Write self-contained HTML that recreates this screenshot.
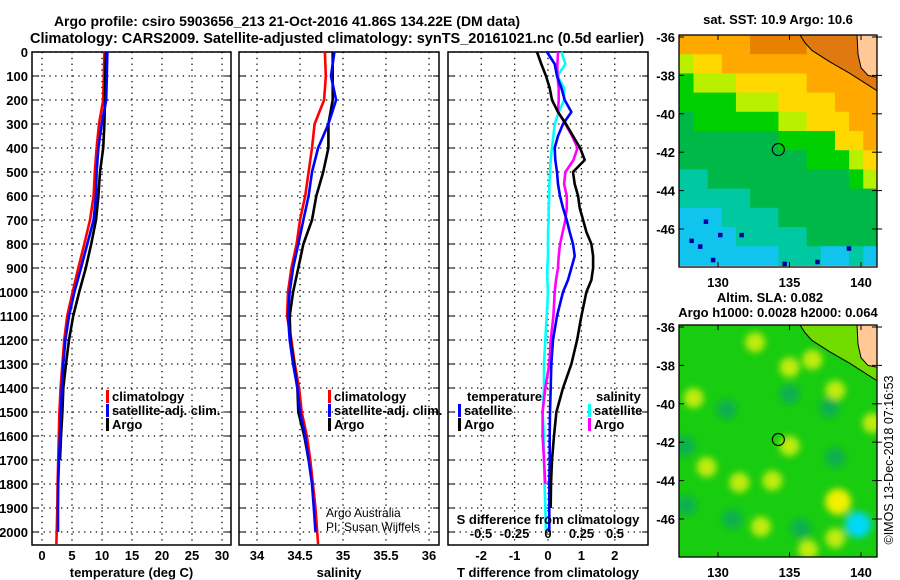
<!DOCTYPE html>
<html><head><meta charset="utf-8">
<style>
html,body{margin:0;padding:0;background:#fff;}
svg{display:block;font-family:"Liberation Sans",sans-serif;}
.t{font-weight:bold;font-size:13px;fill:#000;}
.n{font-weight:normal;font-size:12px;fill:#000;}
</style></head>
<body>
<svg id="fig" width="900" height="580" viewBox="0 0 900 580" xmlns="http://www.w3.org/2000/svg">
<text x="287" y="26" text-anchor="middle" style="font-weight:bold;font-size:14px">Argo profile: csiro 5903656_213 21-Oct-2016 41.86S 134.22E (DM data)</text>
<text x="337" y="43" text-anchor="middle" style="font-weight:bold;font-size:14.5px">Climatology: CARS2009. Satellite-adjusted climatology: synTS_20161021.nc (0.5d earlier)</text>
<g id="g"></g>
</svg>
<script>
// ---------- profile data ----------
const depths = [0,100,200,300,400,500,600,700,800,900,1000,1100,1200,1300,1400,1500,1600,1700,1800,1900,2000,2050];
const tempClim = [10.4,10.3,10.2,9.5,9.1,8.8,8.6,8.0,7.05,6.05,5.1,4.2,3.7,3.4,3.1,2.9,2.8,2.7,2.6,2.55,2.45,2.4];
const tempSat  = [10.9,10.8,10.7,9.95,9.4,9.1,9.0,8.6,7.55,6.5,5.4,4.5,3.9,3.55,3.3,3.17,3.0,2.83,2.7,2.67,2.67,null];
const tempArgo = [10.67,10.55,10.5,10.4,10.2,9.67,9.4,9.0,8.2,7.3,6.2,5.2,4.5,4.0,3.55,3.4,3.17,3.0,null,null,null,null];
const salClim = [34.79,34.8,34.78,34.67,34.64,34.6,34.56,34.5,34.46,34.40,34.36,34.35,34.4,34.44,34.49,34.52,34.58,34.62,34.65,34.68,34.70,34.71];
const salSat  = [34.9,34.86,34.92,34.83,34.71,34.64,34.6,34.54,34.48,34.42,34.38,34.36,34.38,34.42,34.47,34.5,34.56,34.6,34.64,34.66,34.68,null];
const salArgo = [34.88,34.88,34.88,34.83,34.83,34.77,34.69,34.64,34.54,34.48,34.42,34.38,34.39,34.43,34.47,34.48,34.55,34.6,null,null,null,null];
// ---------- difference data ----------
const diffDepths = [0,50,100,150,200,250,300,350,400,450,500,550,600,650,700,750,800,850,900,950,1000,1100,1200,1300,1400,1500,1600,1700,1800,1900,2000];
const tDiffArgo = [-0.33,-0.2,-0.06,0.05,0.12,0.3,0.54,0.75,0.96,1.1,0.75,0.8,0.9,0.95,1.05,1.15,1.3,1.35,1.35,1.3,1.15,1.0,0.87,0.7,0.45,0.25,0.18,0.12,0.09,0.08,null];
const tDiffSat  = [-0.03,0.2,0.27,0.4,0.5,0.7,0.45,0.3,0.2,0.22,0.27,0.3,0.36,0.45,0.56,0.65,0.75,0.8,0.7,0.6,0.45,0.27,0.15,0.1,0.08,0.06,0.05,0.05,0.04,0.04,0.04];
const sDiffArgo = [0.075,0.07,0.07,0.08,0.08,0.075,0.13,0.18,0.22,0.19,0.13,0.12,0.14,0.14,0.13,0.11,0.09,0.08,0.075,0.06,0.05,0.04,0.02,0.01,-0.02,-0.04,-0.04,-0.03,-0.02,null,null];
const sDiffSat  = [0.1,0.13,0.07,0.12,0.12,0.08,0.05,0.04,0.03,0.02,0.015,0.01,0.01,0.005,0.005,0,0,0,-0.005,-0.005,0,-0.01,-0.02,-0.03,-0.03,-0.04,-0.03,-0.03,-0.025,-0.02,-0.015];
// ---------- ticks ----------
const depthTicks = [0,100,200,300,400,500,600,700,800,900,1000,1100,1200,1300,1400,1500,1600,1700,1800,1900,2000];
const tempTicks = [0,5,10,15,20,25,30];
const salTicks = [34,34.5,35,35.5,36];
const tDiffTicks = [-2,-1,0,1,2];
const sDiffTicks = [-0.5,-0.25,0,0.25,0.5];
const latTicks = [-36,-38,-40,-42,-44,-46];
const lonTicks = [130,135,140];
// ---------- SST map (1 deg rows from 36S, 14 cols from 127.3E) ----------
const sstRows = [
"77777888877888",
"56677777777777",
"45556666677777",
"44445556666777",
"34444445566677",
"33333334444667",
"33333333344456",
"22333333333345",
"22222333333333",
"11122223333333",
"11112222233333",
"11111112221121"];
const sstColors = ["#0000a0","#10c4ee","#00c8a0","#00b848","#00d000","#b8f000","#ffd800","#ffa800","#e88000"];
const sstSpeckLon = [128,129.5,130,128.6,136.8,139,131.5,129,134.5];
const sstSpeckLat = [-46.5,-47.5,-46.2,-46.8,-47.6,-46.9,-46.2,-45.5,-47.7];
// ---------- SLA blobs ----------
const slaLon = [132.6,135,136.6,138.2,135,129.2,131.5,133.8,138.4,133,136.3,138.2,128.3,140.8,130.6,135,137.8,138.2,127.7,127.8,131,135.8,139.8];
const slaLat = [-36.8,-38.1,-37.7,-39.3,-42.2,-43.3,-44.1,-44.0,-45.1,-46.4,-47.6,-47,-39.7,-41,-40.3,-39.5,-40.2,-42.8,-42.2,-45.3,-46,-46.5,-46.3];
const slaVal = [1,1,1,1,1,1,1,1,2,1,1,1,1,1,-1,-1,-1,-1,-1,-1,-1,-1,-2];
const argoLon = 134.22, argoLat = -41.86;

const NS="http://www.w3.org/2000/svg";
const G=document.getElementById('g');
function mk(tag,attrs,parent){const e=document.createElementNS(NS,tag);for(const k in attrs)e.setAttribute(k,attrs[k]);(parent||G).appendChild(e);return e;}
function txt(x,y,s,anchor,cls,parent){const e=mk('text',{x:x,y:y,'text-anchor':anchor||'middle','class':cls||'t'},parent);e.textContent=s;return e;}

const Y0=52, PY=0.24, YB=545;
const yD=d=>Y0+PY*d;
const xT=v=>42+6*v, xS=v=>257+86*(v-34), xTd=v=>548+33.4*v, xSd=v=>548+134*v;

function panel(name,x0,x1,vticks,vx,labels,xlabel,leftLabels){
  const g=mk('g',{});
  
  
  depthTicks.forEach(d=>{
    const l=mk('line',{x1:x0,x2:x1,y1:yD(d),y2:yD(d),stroke:'#000','stroke-width':1.3,'stroke-dasharray':'1.3 4.5'},g);
    
    
    mk('line',{x1:x0,x2:x0+6,y1:yD(d),y2:yD(d),stroke:'#000','stroke-width':1},g);
    mk('line',{x1:x1-6,x2:x1,y1:yD(d),y2:yD(d),stroke:'#000','stroke-width':1},g);
    if(leftLabels){const t=txt(28,yD(d)+5,String(d),'end','t',g);
      
      }
  });
  vticks.forEach((v,i)=>{
    const x=vx(v);
    const l=mk('line',{x1:x,x2:x,y1:Y0,y2:YB,stroke:'#000','stroke-width':1.3,'stroke-dasharray':'1.3 4.5'},g);
    
    
    const t=txt(x,560,labels[i],'middle','t',g);
    
    
  });
  const r=mk('rect',{x:x0,y:Y0,width:x1-x0,height:YB-Y0,fill:'none',stroke:'#000','stroke-width':1.5},g);
  
  
  const xl=txt((x0+x1)/2,577,xlabel,'middle','t',g);
  
  
  return g;
}
function line(g,ds,vals,fx,color,name,w){
  let pts=[];
  vals.forEach((v,i)=>{if(v!==null&&v!==undefined)pts.push(fx(v).toFixed(1)+','+yD(ds[i]).toFixed(1));});
  const p=mk('polyline',{points:pts.join(' '),fill:'none',stroke:color,'stroke-width':w||2.6,'stroke-linejoin':'round'},g);
  
  
}
function legend(g,x,y,color,label){
  const m=mk('rect',{x:x,y:y-11,width:3,height:13,fill:color},g);
  
  
  const t=txt(x+6,y,label,'start','t',g);
  
  
}

// Panel 1
const p1=panel('temperature-panel',32,231,tempTicks,xT,tempTicks.map(String),'temperature (deg C)',true);
line(p1,depths,tempClim,xT,'#ff0000','temp-climatology-line');
line(p1,depths,tempArgo,xT,'#000000','temp-argo-line');
line(p1,depths,tempSat,xT,'#0000ff','temp-satellite-line');
legend(p1,106,401,'#ff0000','climatology');
legend(p1,106,415,'#0000ff','satellite-adj. clim.');
legend(p1,106,429,'#000000','Argo');

// Panel 2
const p2=panel('salinity-panel',239,439,salTicks,xS,['34','34.5','35','35.5','36'],'salinity',false);
line(p2,depths,salClim,xS,'#ff0000','sal-climatology-line');
line(p2,depths,salArgo,xS,'#000000','sal-argo-line');
line(p2,depths,salSat,xS,'#0000ff','sal-satellite-line');
legend(p2,328,401,'#ff0000','climatology');
legend(p2,328,415,'#0000ff','satellite-adj. clim.');
legend(p2,328,429,'#000000','Argo');
{const a=txt(326,517,'Argo Australia','start','n',p2);
 
 
 const b=txt(326,531,'PI: Susan Wijffels','start','n',p2);
 
 }

// Panel 3
const p3=panel('difference-panel',448,648,tDiffTicks,xTd,tDiffTicks.map(String),'T difference from climatology',false);
line(p3,diffDepths,sDiffSat,xSd,'#00ffff','s-diff-satellite-line');
line(p3,diffDepths,sDiffArgo,xSd,'#ff00ff','s-diff-argo-line');
line(p3,diffDepths,tDiffSat,xTd,'#0000ff','t-diff-satellite-line');
line(p3,diffDepths,tDiffArgo,xTd,'#000000','t-diff-argo-line');
{const t=txt(467,401,'temperature','start','t',p3);}
legend(p3,458,415,'#0000ff','satellite');
legend(p3,458,429,'#000000','Argo');
{const t=txt(596,401,'salinity','start','t',p3);}
legend(p3,588,415,'#00ffff','satellite');
legend(p3,588,429,'#ff00ff','Argo');
{const t=txt(548,524,'S difference from climatology','middle','t',p3);}
sDiffTicks.forEach(v=>{const t=txt(xSd(v),538,String(v),'middle','t',p3);
  
  });

// ---------- Maps ----------
const MX0=679,MX1=877;
const lonX=l=>718+14.3*(l-130);
function mapFrame(name,top,bottom){
  const latY=l=>top+2+19.2*(-36-l);
  const g=mk('g',{});
  
  
  const cp=mk('clipPath',{id:'clip-'+name},g);
  mk('rect',{x:MX0,y:top,width:MX1-MX0,height:bottom-top},cp);
  const inner=mk('g',{'clip-path':'url(#clip-'+name+')'},g);
  return {g,inner,latY,top,bottom};
}
function mapAxes(m){
  const g=m.g;
  mk('rect',{x:MX0,y:m.top,width:MX1-MX0,height:m.bottom-m.top,fill:'none',stroke:'#000','stroke-width':1.3},g);
  latTicks.forEach(l=>{const y=m.latY(l);
    mk('line',{x1:MX0,x2:MX0+5,y1:y,y2:y,stroke:'#000'},g);
    mk('line',{x1:MX1-5,x2:MX1,y1:y,y2:y,stroke:'#000'},g);
    mk('line',{x1:MX1,x2:MX1+5,y1:y,y2:y,stroke:'#000'},g);
    const t=txt(675,y+5,String(l),'end','t',g);
    
    });
  lonTicks.forEach(l=>{const x=lonX(l);
    mk('line',{x1:x,x2:x,y1:m.top,y2:m.top+5,stroke:'#000'},g);
    mk('line',{x1:x,x2:x,y1:m.bottom-5,y2:m.bottom,stroke:'#000'},g);
    const t=txt(x,m.bottom+20,String(l),'middle','t',g);
    
    });
  const c=mk('circle',{cx:lonX(argoLon),cy:m.latY(argoLat),r:6,fill:'none',stroke:'#000','stroke-width':1.2},g);
  
  
}
function land(m,inner,coastFill){
  const y=m.latY;
  const a=mk('polygon',{points:`800,${m.top} ${MX1},${m.top} ${MX1},${y(-38.8)} 850,${y(-37.9)} 830,${y(-37.3)} 812,${y(-36.7)}`,fill:coastFill},inner);
  
  
  const p=mk('polygon',{points:`857,${m.top} ${MX1},${m.top} ${MX1},${y(-38.1)} 868,${y(-38.0)} 861,${y(-37.6)} 858,${y(-36.9)}`,fill:'#ffc896'},inner);
  
  
  const cl=mk('polyline',{points:`800,${m.top} 805,${y(-36.3)} 812,${y(-36.7)} 830,${y(-37.3)} 850,${y(-37.9)} 865,${y(-38.4)} ${MX1},${y(-38.8)}`,fill:'none',stroke:'#000','stroke-width':1},inner);
  
  
  mk('polyline',{points:`857,${m.top} 858,${y(-36.9)} 861,${y(-37.6)} 868,${y(-38.0)} ${MX1},${y(-38.1)}`,fill:'none',stroke:'#000','stroke-width':1},inner);
}

// SST map
const m1=mapFrame('sst-map',35,267);
{const t=txt(778,24,'sat. SST: 10.9 Argo: 10.6','middle','t');}
sstRows.forEach((row,r)=>{
  for(let c=0;c<row.length;c++){
    const lon0=127.3+c*(198/14)/14.3;
    const x=lonX(lon0), w=198/14+0.5;
    const y=m1.latY(-36-r)-2, h=19.7;
    const cell=mk('rect',{x:x,y:y,width:w,height:h,fill:sstColors[+row[c]]},m1.inner);
    
    
  }
});
sstSpeckLon.forEach((lo,i)=>{
  const s=mk('rect',{x:lonX(lo),y:m1.latY(sstSpeckLat[i]),width:4.5,height:4.5,fill:'#0000a0'},m1.inner);
  
  
});
land(m1,m1.inner,'#e07a10');
mapAxes(m1);

// SLA map
const m2=mapFrame('sla-map',325,557);
{const t=txt(770,302,'Altim. SLA: 0.082','middle','t');
 const t2=txt(778,317,'Argo h1000: 0.0028 h2000: 0.064','middle','t');}
{const defs=mk('defs',{},m2.g);const f=mk('filter',{id:'blr',x:'-50%',y:'-50%',width:'200%',height:'200%'},defs);mk('feGaussianBlur',{stdDeviation:3.5},f);}
{const bg=mk('rect',{x:MX0,y:325,width:198,height:232,fill:'#18cc10'},m2.inner);}
const bl=mk('g',{filter:'url(#blr)'},m2.inner);
const slaCol={'2':'#f0f000','1':'#c0ec10','-1':'#08b050','-2':'#00d8f8'};
slaLon.forEach((lo,i)=>{
  const b=mk('circle',{cx:lonX(lo),cy:m2.latY(slaLat[i]),r:Math.abs(slaVal[i])>1?13:10,fill:slaCol[String(slaVal[i])]},bl);
  
  
});
land(m2,m2.inner,'#70dc00');
mapAxes(m2);
{const t=txt(0,0,'©IMOS 13-Dec-2018 07:16:53','middle','n');t.setAttribute('transform','translate(893,460) rotate(-90)');t.setAttribute('style','font-size:12.5px');
 
 }
</script>
</body></html>
